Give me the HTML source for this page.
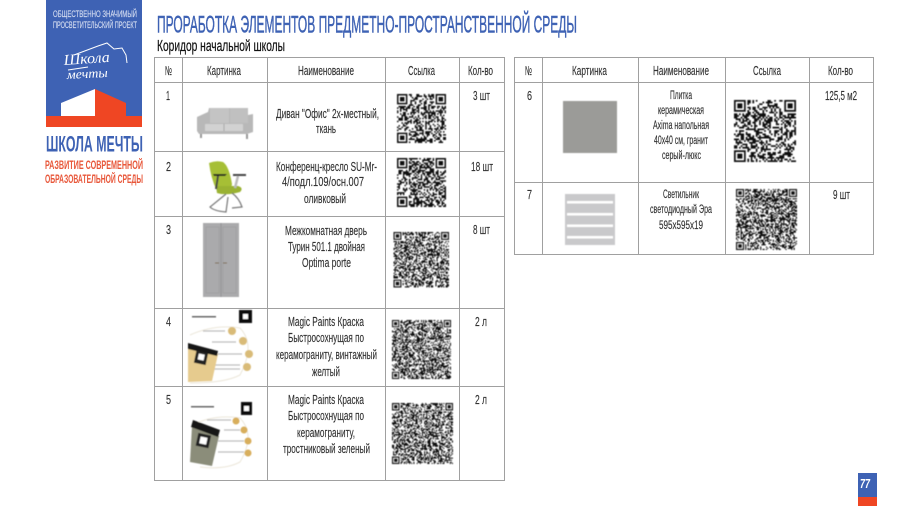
<!DOCTYPE html>
<html lang="ru"><head><meta charset="utf-8"><title>Проработка элементов</title>
<style>
html,body{margin:0;padding:0;background:#fff;width:900px;height:506px;overflow:hidden}
svg{display:block}
text{font-family:"Liberation Sans",sans-serif}
.t text{font-size:13px;fill:#333;stroke:#333;stroke-width:.15}
.s text{font-size:11.5px;fill:#333;stroke:#333;stroke-width:.15}
.l line{stroke:#a0a0a0;stroke-width:1}
</style></head><body>
<svg xmlns="http://www.w3.org/2000/svg" width="900" height="506" viewBox="0 0 900 506">
<defs><filter id="b"><feGaussianBlur stdDeviation="0.4"/></filter></defs>
<rect width="900" height="506" fill="#fff"/>
<!-- logo -->
<rect x="46" y="0" width="96" height="116" fill="#3e62b4"/>
<rect x="46" y="116" width="96" height="11" fill="#ef4623"/>
<polygon points="61,116 61,103 95,89 95,116" fill="#fff"/>
<polygon points="95,89 126,103 126,116 95,116" fill="#ef4623"/>
<text x="53" y="17" font-size="9" fill="#d4dcf0" stroke="#d4dcf0" stroke-width=".15" textLength="84" lengthAdjust="spacingAndGlyphs">ОБЩЕСТВЕННО ЗНАЧИМЫЙ</text>
<text x="53" y="28" font-size="9" fill="#d4dcf0" stroke="#d4dcf0" stroke-width=".15" textLength="84" lengthAdjust="spacingAndGlyphs">ПРОСВЕТИТЕЛЬСКИЙ ПРОЕКТ</text>
<text x="64" y="65" font-size="15" font-style="italic" fill="#fff" style="font-family:'Liberation Serif',serif" textLength="46" lengthAdjust="spacingAndGlyphs" transform="rotate(-4 64 65)">Школа</text>
<text x="67" y="79" font-size="13" font-style="italic" fill="#fff" style="font-family:'Liberation Serif',serif" textLength="41" lengthAdjust="spacingAndGlyphs" transform="rotate(-3 67 79)">мечты</text>
<path d="M74 55 L98 46 L107 43 L114 49 L122 48 L126 55 L127 63" fill="none" stroke="#fff" stroke-width="1"/>
<path d="M68 70 L88 67" stroke="#fff" stroke-width="1"/>
<text x="46" y="151.500" font-size="22" font-weight="bold" fill="#3e62b4" textLength="97" lengthAdjust="spacingAndGlyphs">ШКОЛА МЕЧТЫ</text>
<text x="45" y="169" font-size="11.500" font-weight="bold" fill="#e8573a" textLength="98" lengthAdjust="spacingAndGlyphs">РАЗВИТИЕ СОВРЕМЕННОЙ</text>
<text x="45" y="183" font-size="11.500" font-weight="bold" fill="#e8573a" textLength="98" lengthAdjust="spacingAndGlyphs">ОБРАЗОВАТЕЛЬНОЙ СРЕДЫ</text>
<!-- title -->
<text x="157" y="32.500" font-size="24" fill="#3e62b4" stroke="#3e62b4" stroke-width=".5" textLength="420" lengthAdjust="spacingAndGlyphs">ПРОРАБОТКА ЭЛЕМЕНТОВ ПРЕДМЕТНО-ПРОСТРАНСТВЕННОЙ СРЕДЫ</text>
<text x="157" y="51" font-size="15.500" fill="#111" stroke="#111" stroke-width=".2" textLength="128" lengthAdjust="spacingAndGlyphs">Коридор начальной школы</text>
<!-- left table lines -->
<g class="l">
<line x1="154" y1="57.500" x2="505" y2="57.500"/><line x1="154" y1="82.500" x2="505" y2="82.500"/><line x1="154" y1="151.500" x2="505" y2="151.500"/><line x1="154" y1="216.500" x2="505" y2="216.500"/><line x1="154" y1="308.500" x2="505" y2="308.500"/><line x1="154" y1="386.500" x2="505" y2="386.500"/><line x1="154" y1="480.500" x2="505" y2="480.500"/>
<line x1="154.500" y1="57" x2="154.500" y2="481"/><line x1="182.500" y1="57" x2="182.500" y2="481"/><line x1="267.500" y1="57" x2="267.500" y2="481"/><line x1="385.500" y1="57" x2="385.500" y2="481"/><line x1="459.500" y1="57" x2="459.500" y2="481"/><line x1="504.500" y1="57" x2="504.500" y2="481"/>
<line x1="514" y1="57.500" x2="874" y2="57.500"/><line x1="514" y1="82.500" x2="874" y2="82.500"/><line x1="514" y1="182.500" x2="874" y2="182.500"/><line x1="514" y1="254.500" x2="874" y2="254.500"/>
<line x1="514.500" y1="57" x2="514.500" y2="255"/><line x1="542.500" y1="57" x2="542.500" y2="255"/><line x1="638.500" y1="57" x2="638.500" y2="255"/><line x1="725.500" y1="57" x2="725.500" y2="255"/><line x1="809.500" y1="57" x2="809.500" y2="255"/><line x1="873.500" y1="57" x2="873.500" y2="255"/>
</g>
<!-- table text -->
<g class="t">
<text x="165" y="75" textLength="7" lengthAdjust="spacingAndGlyphs">№</text>
<text x="207" y="75" textLength="34" lengthAdjust="spacingAndGlyphs">Картинка</text>
<text x="298" y="75" textLength="56" lengthAdjust="spacingAndGlyphs">Наименование</text>
<text x="408" y="75" textLength="27" lengthAdjust="spacingAndGlyphs">Ссылка</text>
<text x="468" y="75" textLength="25" lengthAdjust="spacingAndGlyphs">Кол-во</text>
<text x="166" y="100" textLength="4" lengthAdjust="spacingAndGlyphs">1</text>
<text x="473" y="100" textLength="17" lengthAdjust="spacingAndGlyphs">3 шт</text>
<text x="276" y="118" textLength="103" lengthAdjust="spacingAndGlyphs">Диван "Офис" 2х-местный,</text>
<text x="316" y="133" textLength="20" lengthAdjust="spacingAndGlyphs">ткань</text>
<text x="166" y="171" textLength="5" lengthAdjust="spacingAndGlyphs">2</text>
<text x="471" y="171" textLength="22" lengthAdjust="spacingAndGlyphs">18 шт</text>
<text x="276" y="171" textLength="101" lengthAdjust="spacingAndGlyphs">Конференц-кресло SU-Mr-</text>
<text x="282" y="186" textLength="82" lengthAdjust="spacingAndGlyphs">4/подл.109/осн.007</text>
<text x="304" y="203" textLength="42" lengthAdjust="spacingAndGlyphs">оливковый</text>
<text x="166" y="234" textLength="5" lengthAdjust="spacingAndGlyphs">3</text>
<text x="473" y="234" textLength="17" lengthAdjust="spacingAndGlyphs">8 шт</text>
<text x="285" y="235" textLength="82" lengthAdjust="spacingAndGlyphs">Межкомнатная дверь</text>
<text x="288" y="251" textLength="77" lengthAdjust="spacingAndGlyphs">Турин 501.1 двойная</text>
<text x="302" y="267" textLength="49" lengthAdjust="spacingAndGlyphs">Optima porte</text>
<text x="166" y="326" textLength="5" lengthAdjust="spacingAndGlyphs">4</text>
<text x="475" y="326" textLength="12" lengthAdjust="spacingAndGlyphs">2 л</text>
<text x="288" y="326" textLength="76" lengthAdjust="spacingAndGlyphs">Magic Paints Краска</text>
<text x="288" y="342" textLength="76" lengthAdjust="spacingAndGlyphs">Быстросохнущая по</text>
<text x="276" y="359" textLength="101" lengthAdjust="spacingAndGlyphs">керамограниту, винтажный</text>
<text x="312" y="376" textLength="28" lengthAdjust="spacingAndGlyphs">желтый</text>
<text x="166" y="404" textLength="5" lengthAdjust="spacingAndGlyphs">5</text>
<text x="475" y="404" textLength="12" lengthAdjust="spacingAndGlyphs">2 л</text>
<text x="288" y="404" textLength="76" lengthAdjust="spacingAndGlyphs">Magic Paints Краска</text>
<text x="288" y="420" textLength="76" lengthAdjust="spacingAndGlyphs">Быстросохнущая по</text>
<text x="297" y="437" textLength="58" lengthAdjust="spacingAndGlyphs">керамограниту,</text>
<text x="283" y="453" textLength="87" lengthAdjust="spacingAndGlyphs">тростниковый зеленый</text>
<text x="525" y="75" textLength="7" lengthAdjust="spacingAndGlyphs">№</text>
<text x="572" y="75" textLength="35" lengthAdjust="spacingAndGlyphs">Картинка</text>
<text x="653" y="75" textLength="56" lengthAdjust="spacingAndGlyphs">Наименование</text>
<text x="753" y="75" textLength="28" lengthAdjust="spacingAndGlyphs">Ссылка</text>
<text x="828" y="75" textLength="25" lengthAdjust="spacingAndGlyphs">Кол-во</text>
<text x="527" y="100" textLength="5" lengthAdjust="spacingAndGlyphs">6</text>
<text x="825" y="100" textLength="32" lengthAdjust="spacingAndGlyphs">125,5 м2</text>
<text x="527" y="199" textLength="5" lengthAdjust="spacingAndGlyphs">7</text>
<text x="833" y="199" textLength="17" lengthAdjust="spacingAndGlyphs">9 шт</text>
</g>
<g class="s">
<text x="670" y="99" textLength="22" lengthAdjust="spacingAndGlyphs">Плитка</text>
<text x="658" y="114" textLength="46" lengthAdjust="spacingAndGlyphs">керамическая</text>
<text x="653" y="129" textLength="56" lengthAdjust="spacingAndGlyphs">Axima напольная</text>
<text x="654" y="144" textLength="54" lengthAdjust="spacingAndGlyphs">40х40 см, гранит</text>
<text x="662" y="159" textLength="39" lengthAdjust="spacingAndGlyphs">серый-люкс</text>
<text x="663" y="198" textLength="36" lengthAdjust="spacingAndGlyphs">Светильник</text>
<text x="650" y="213" textLength="62" lengthAdjust="spacingAndGlyphs">светодиодный  Эра</text>
<text x="659" y="229" textLength="44" lengthAdjust="spacingAndGlyphs">595х595х19</text>
</g>
<!-- pictures -->
<g filter="url(#b)">
<!-- sofa -->
<path d="M197 117 L208 112 L209 108 L248 108 L248 115 L253 114 L253 132 L247 134 L199 134 L197 131Z" fill="#b8b8b8"/>
<path d="M210 108 H229 V123 H210Z" fill="#c4c4c4"/><path d="M230 108 H248 V123 H230Z" fill="#c0c0c0"/>
<path d="M205 124 H243 V131 H205Z" fill="#d2d2d2"/>
<path d="M224 124v7" stroke="#a8a8a8"/>
<rect x="200" y="134" width="2" height="4" fill="#999"/><rect x="246" y="134" width="2" height="5" fill="#999"/>
<!-- chair -->
<path d="M209 163 Q216 160 223 162 Q229 166 232 184 Q232 189 224 189 L216 189 Q211 178 209 163Z" fill="#a6bf36"/>
<path d="M216 186 H238 Q244 188 240 192 Q226 196 217 193Z" fill="#9ab230"/>
<path d="M213 174h14l-2 2h-11z" fill="#222"/><path d="M218 176l-2 13" stroke="#444" stroke-width="2"/>
<path d="M233 174h13v2h-13z" fill="#444"/><path d="M238 176l-3 12" stroke="#bbb" stroke-width="2.500"/>
<path d="M226 194 L210 207 Q214 211 226 212 L228 197 M232 193 Q239 198 242 207 L232 208" fill="none" stroke="#777" stroke-width="1.200"/>
<!-- door -->
<rect x="203" y="223" width="36" height="74" fill="#aaaaac"/>
<rect x="206" y="227" width="13" height="66" fill="none" stroke="#a0a0a2" stroke-width="1"/>
<rect x="223" y="227" width="13" height="66" fill="none" stroke="#a0a0a2" stroke-width="1"/>
<line x1="221" y1="223" x2="221" y2="297" stroke="#929294"/>
<path d="M215 263h4M223 263h4" stroke="#7b6a50" stroke-width="1"/>
<!-- paint 1 -->
<rect x="192" y="316" width="24" height="1.500" fill="#666"/>
<rect x="239" y="310" width="13" height="13" fill="#111"/><rect x="243" y="314" width="5" height="5" fill="#fff"/>
<path d="M190 335 Q215 324 240 328 Q256 345 240 375 Q225 383 190 383" fill="none" stroke="#ece7da" stroke-width="1"/>
<circle cx="232" cy="331" r="4" fill="#d9bb78"/><circle cx="243" cy="341" r="4" fill="#d9bb78"/><circle cx="249" cy="354" r="4" fill="#d9bb78"/><circle cx="247" cy="367" r="4" fill="#d9bb78"/>
<path d="M203 331h22M212 342h24M218 354h24M214 365h26M214 369h26" stroke="#bdbdbd" stroke-width="1.200"/>
<path d="M188 348 L218 354 L212 381 L188 382Z" fill="#e6cb8e"/>
<path d="M188 343 L218 351 L217 356 L188 349Z" fill="#191919"/>
<rect x="195" y="352" width="12" height="12" fill="#222" transform="rotate(12 201 358)"/><rect x="198" y="354" width="6" height="6" fill="#fff" transform="rotate(12 201 358)"/>
<!-- paint 2 -->
<rect x="191" y="406" width="23" height="1.500" fill="#666"/>
<rect x="241" y="402" width="11" height="13" fill="#111"/><rect x="244" y="406" width="5" height="5" fill="#fff"/>
<path d="M192 425 Q215 414 240 418 Q256 435 240 462 Q225 470 200 467" fill="none" stroke="#ece7da" stroke-width="1"/>
<circle cx="236" cy="421" r="3.500" fill="#d8ae5c"/><circle cx="244" cy="430" r="3.500" fill="#d8ae5c"/><circle cx="248" cy="441" r="3.500" fill="#d8ae5c"/><circle cx="248" cy="453" r="3.500" fill="#d8ae5c"/>
<path d="M207 420h24M224 430h16M218 441h26M218 452h26" stroke="#bdbdbd" stroke-width="1.200"/>
<path d="M192 426 L219 436 L212 466 L190 462Z" fill="#8b8d7a"/>
<path d="M193 420 L220 430 L218 437 L191 427Z" fill="#191919"/>
<rect x="197" y="434" width="13" height="13" fill="#222" transform="rotate(12 203 440)"/><rect x="200" y="437" width="7" height="7" fill="#fff" transform="rotate(12 203 440)"/>
<!-- tile -->
<rect x="563" y="101" width="54" height="52" fill="#9b9b98"/>
<!-- panel -->
<rect x="565" y="194" width="50" height="51" fill="#c9c9cb"/>
<rect x="567" y="201" width="46" height="2.500" fill="#fff"/><rect x="567" y="213" width="46" height="2.500" fill="#fff"/><rect x="567" y="224.500" width="46" height="2.500" fill="#fff"/><rect x="567" y="236" width="46" height="2.500" fill="#fff"/>
<g id="qrs" fill="#111"></g>
</g>
<!-- page number -->
<rect x="858" y="473" width="19" height="24" fill="#3e62b4"/>
<rect x="858" y="497" width="19" height="9" fill="#ef4623"/>
<text x="860" y="488" font-size="13" font-style="italic" font-weight="bold" fill="#fff" textLength="10" lengthAdjust="spacingAndGlyphs">77</text>
</svg>
<script>
(function(){
var Q=[[397,94,49,33],[397,158,49,33],[393.5,232,55.5,49],[392,320,59,57],[392,403,61,57],[734,100,62,37],[736,189,61,53]];
var s=12345;function r(){s=(s*1664525+1013904223)>>>0;return s/4294967296;}
var d='';
function R(x,y,w,h){d+='M'+x.toFixed(2)+' '+y.toFixed(2)+'h'+w.toFixed(2)+'v'+h.toFixed(2)+'h-'+w.toFixed(2)+'z';}
Q.forEach(function(q){var x=q[0],y=q[1],w=q[2],n=q[3],c=w/n;
function inF(i,j){return (i<8&&j<8)||(i>=n-8&&j<8)||(i<8&&j>=n-8);}
for(var j=0;j<n;j++)for(var i=0;i<n;i++){if(!inF(i,j)&&r()<0.5)R(x+i*c,y+j*c,c,c);}
[[0,0],[n-7,0],[0,n-7]].forEach(function(f){var fx=x+f[0]*c,fy=y+f[1]*c,o=7*c;
R(fx,fy,o,c);R(fx,fy+6*c,o,c);R(fx,fy,c,o);R(fx+6*c,fy,c,o);R(fx+2*c,fy+2*c,3*c,3*c);});
});
var p=document.createElementNS('http://www.w3.org/2000/svg','path');p.setAttribute('d',d);document.getElementById('qrs').appendChild(p);
})();
</script>
</body></html>
